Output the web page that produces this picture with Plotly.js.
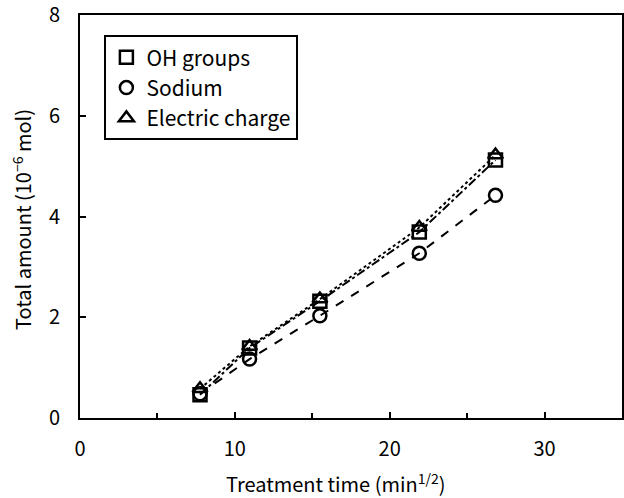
<!DOCTYPE html>
<html><head><meta charset="utf-8">
<script src="https://cdn.plot.ly/plotly-3.0.1.min.js"></script>
<style>body{margin:0;background:#fff}#c{width:624px;height:498px}</style>
</head><body><div id="c"></div>
<script>
const time = [7.75, 10.95, 15.49, 21.91, 26.83];
const ohGroups = [0.46, 1.39, 2.32, 3.69, 5.12];
const sodium = [0.48, 1.17, 2.03, 3.27, 4.42];
const electricCharge = [0.58, 1.42, 2.36, 3.78, 5.22];
const names = ['OH groups', 'Sodium', 'Electric charge'];
const xTicks = [0, 10, 20, 30];
const yTicks = [0, 2, 4, 6, 8];

const font = "'Noto Sans CJK JP', 'Liberation Sans', Arial, sans-serif";
const series = [ohGroups, sodium, electricCharge];
const symbols = ['square-open', 'circle-open', 'triangle-up-open'];
const dashes = ['dashdot', 'dash', 'dot'];
const traces = [];
series.forEach((s, i) => {
  traces.push({x: time, y: s, mode: 'lines', showlegend: false, hoverinfo: 'skip',
    line: {color: '#000', width: 2, dash: dashes[i]}});
});
series.forEach((s, i) => {
  traces.push({x: time, y: s, mode: 'markers', name: names[i], legendgroup: 'g' + i,
    marker: {symbol: symbols[i], size: 13, color: '#000', line: {color: '#000', width: 2.5}}});
});

const layout = {
  width: 624, height: 498,
  margin: {l: 80, r: 2, t: 15, b: 80},
  paper_bgcolor: '#fff', plot_bgcolor: '#fff',
  font: {family: font, color: '#000', size: 20},
  showlegend: true,
  legend: {x: 0.045, y: 0.95, xanchor: 'left', yanchor: 'top', bgcolor: '#fff',
    bordercolor: '#000', borderwidth: 2, font: {size: 21, family: font}, itemwidth: 30,
    traceorder: 'grouped', tracegroupgap: 0},
  xaxis: {range: [0, 35], tickmode: 'array', tickvals: xTicks,
    ticks: 'inside', ticklen: 6, tickwidth: 2, tickcolor: '#000',
    minor: {tick0: 0, dtick: 5, ticks: 'inside', ticklen: 5, tickwidth: 2, tickcolor: '#000'},
    showline: true, linecolor: '#000', linewidth: 2, mirror: true,
    showgrid: false, zeroline: false, ticklabelstandoff: 12, ticklabeloverflow: 'allow',
    tickfont: {size: 20}},
  yaxis: {range: [0, 8], tickmode: 'array', tickvals: yTicks, ticks: 'inside', ticklen: 6, tickwidth: 2, tickcolor: '#000',
    showline: true, linecolor: '#000', linewidth: 2, mirror: true,
    showgrid: false, zeroline: false, ticklabelstandoff: 14, ticklabeloverflow: 'allow',
    tickfont: {size: 20}},
  annotations: [
    {text: 'Treatment time (min<sup>1/2</sup>)', xref: 'paper', yref: 'paper',
     x: (335 - 80) / 542, y: -(483 - 418) / 403, xanchor: 'center', yanchor: 'middle',
     showarrow: false, font: {size: 20}},
    {text: 'Total amount (10<sup>−6</sup> mol)', xref: 'paper', yref: 'paper',
     x: -(80 - 22) / 542, y: (418 - 220) / 403, xanchor: 'center', yanchor: 'middle',
     textangle: -90, showarrow: false, font: {size: 20}}
  ]
};
Plotly.newPlot('c', traces, layout, {displayModeBar: false, staticPlot: true});
</script></body></html>
